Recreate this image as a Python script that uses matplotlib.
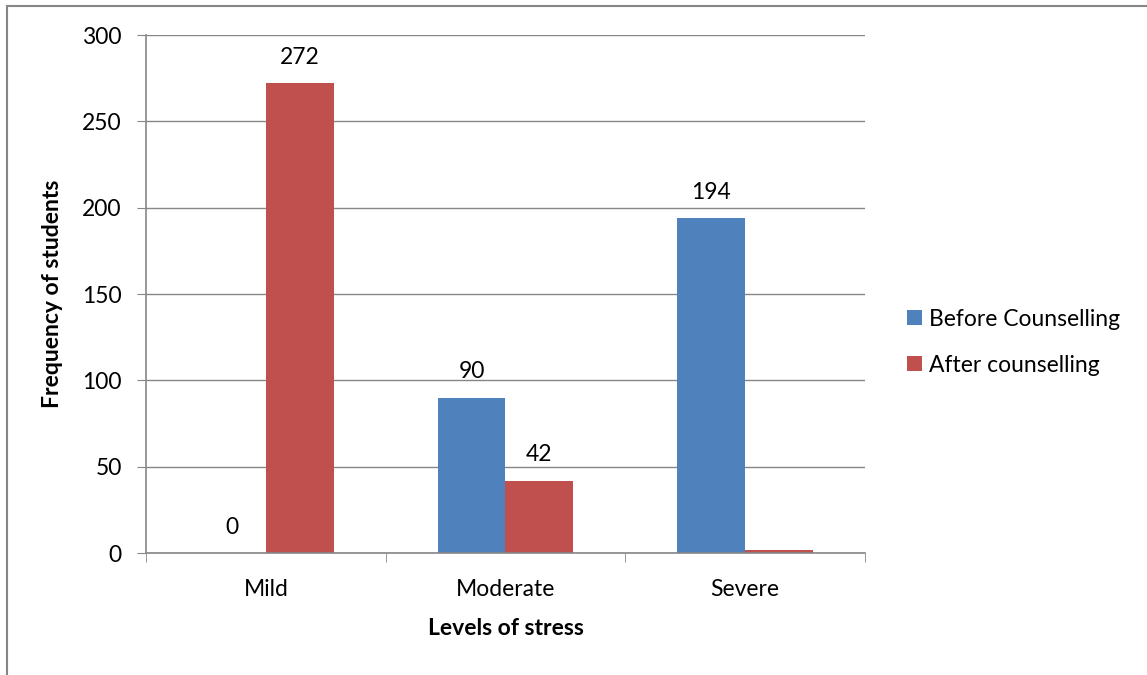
import numpy as np
import matplotlib.pyplot as plt
from matplotlib.patches import Rectangle

categories = ["Mild", "Moderate", "Severe"]
before = [0, 90, 194]
after = [272, 42, 2]
before_labels = ["0", "90", "194"]
after_labels = ["272", "42", ""]
yticks = [0, 50, 100, 150, 200, 250, 300]

plt.rcParams["font.family"] = ["Lato", "DejaVu Sans"]
grey = "#868686"
fs = 16.5

fig = plt.figure(figsize=(11.47, 6.75), dpi=100)
ax = fig.add_axes([0.1273, 0.1807, 0.6268, 0.7674])

x = np.arange(len(categories))
w = 0.283
b1 = ax.bar(x - w / 2, before, w, color="#4F81BD", label="Before Counselling")
b2 = ax.bar(x + w / 2, after, w, color="#C0504D", label="After counselling")
ax.bar_label(b1, labels=before_labels, padding=11, fontsize=fs)
ax.bar_label(b2, labels=after_labels, padding=11, fontsize=fs)

ax.set_xlim(-0.5, len(categories) - 0.5)
ax.set_ylim(0, 300)
ax.set_yticks(yticks)
ax.yaxis.grid(True, color=grey, linewidth=1)
ax.set_axisbelow(True)

# category labels centred, tick marks between groups
ax.set_xticks(x)
ax.set_xticklabels(categories, fontsize=fs)
ax.tick_params(axis="x", length=0, pad=18.5)
ax.set_xticks(np.arange(-0.5, len(categories)), minor=True)
ax.tick_params(axis="x", which="minor", length=6.5, color=grey, direction="out")
ax.tick_params(axis="y", length=6.5, color=grey, labelsize=fs, pad=11)

for s in ["top", "right"]:
    ax.spines[s].set_visible(False)
for s in ["left", "bottom"]:
    ax.spines[s].set_color(grey)
    ax.spines[s].set_linewidth(1.2)

ax.set_xlabel("Levels of stress", fontsize=fs, fontweight="bold", labelpad=13)
ax.set_ylabel("Frequency of students", fontsize=fs, fontweight="bold", labelpad=14)

ax.legend(loc="center left", bbox_to_anchor=(1.03, 0.407), frameon=False,
          fontsize=fs, handlelength=0.65, handleheight=0.65, labelspacing=1.1,
          handletextpad=0.3)

# outer chart border
fig.patches.append(Rectangle((0.006, -0.01), 1.2, 1.001, transform=fig.transFigure,
                             fill=False, edgecolor=grey, linewidth=1.5))

fig.savefig("out.png", dpi=100)
